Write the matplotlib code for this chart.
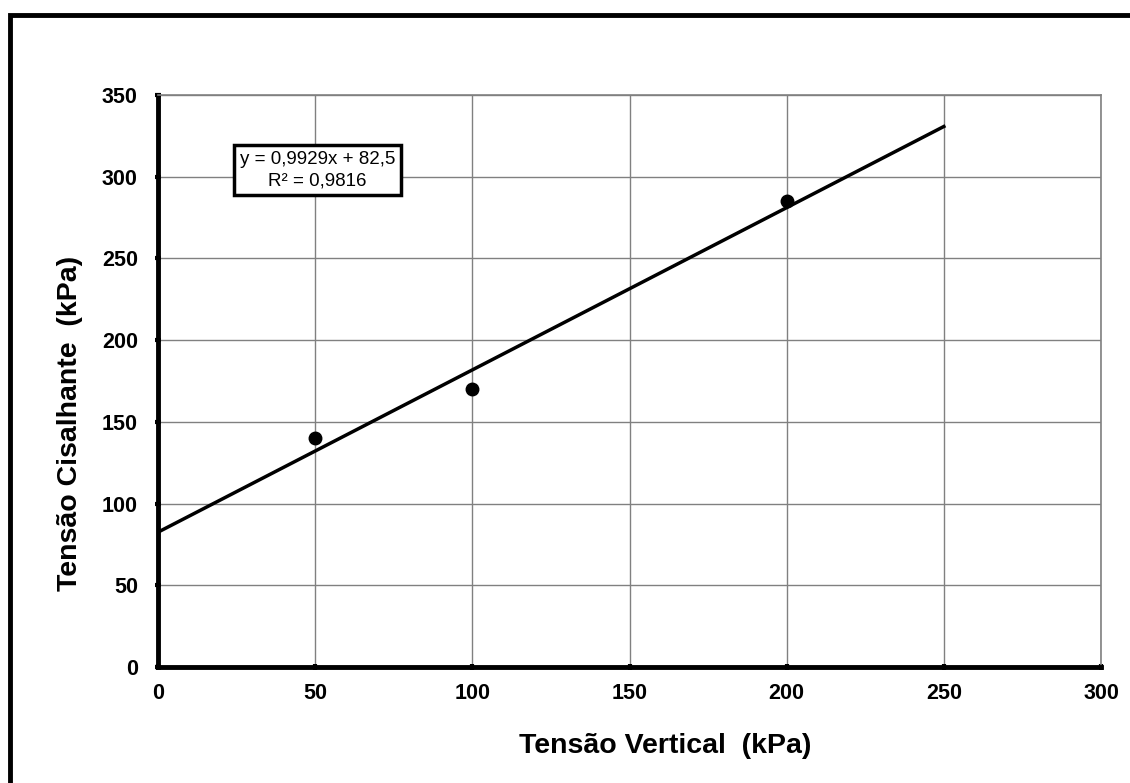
import numpy as np
import matplotlib
matplotlib.use('Agg')
from matplotlib import pyplot as plt
from matplotlib.patches import Rectangle

plt.rcParams['font.family'] = ['Liberation Sans', 'DejaVu Sans']

# ensaio de cisalhamento direto
tensao_vertical = [50, 100, 200]
tensao_cisalhante = [140, 170, 285]
slope = 0.9929
intercept = 82.5
r2 = 0.9816
trend_x = [0, 250]

x_ticks = [0, 50, 100, 150, 200, 250, 300]
y_ticks = [0, 50, 100, 150, 200, 250, 300, 350]

fig = plt.figure(figsize=(11.3, 7.83), dpi=100)
ax = fig.add_axes([158/1130, 1 - 667/783, 943/1130, 572/783])

# outer frame, cut off on right and bottom
fig.patches.append(Rectangle((10/1130, -0.1), 1.2, 1 - 15/783 + 0.1,
                             transform=fig.transFigure, fill=False,
                             edgecolor='black', linewidth=3.5, zorder=0))

tx = np.array(trend_x, dtype=float)
ax.plot(tx, slope*tx + intercept, color='black', linewidth=2.5, zorder=3)
ax.plot(tensao_vertical, tensao_cisalhante, 'o', color='black', markersize=9, zorder=4)

ax.set_xlim(0, 300)
ax.set_ylim(0, 350)
ax.set_xticks(x_ticks)
ax.set_yticks(y_ticks)
ax.grid(True, color='#808080', linewidth=1)
ax.set_axisbelow(True)

for s in ['top', 'right']:
    ax.spines[s].set_color('#808080')
    ax.spines[s].set_linewidth(1.2)
for s in ['left', 'bottom']:
    ax.spines[s].set_linewidth(3.5)

ax.tick_params(direction='inout', length=5, width=3, labelsize=15.5)
ax.tick_params(axis='x', pad=9)
ax.tick_params(axis='y', pad=12)
for lab in ax.get_xticklabels() + ax.get_yticklabels():
    lab.set_fontweight('bold')

ax.set_xlabel('Tensão Vertical  (kPa)', fontsize=20.5, fontweight='bold')
ax.set_ylabel('Tensão Cisalhante  (kPa)', fontsize=20.5, fontweight='bold')
# excel places the titles a bit off-centre
ax.xaxis.set_label_coords((665 - 158) / 943, -0.116)
ax.yaxis.set_label_coords(-0.0795, 0.425)

eq = 'y = {:.4f}x + {:.1f}\nR² = {:.4f}'.format(slope, intercept, r2).replace('.', ',')
ax.text(50.8, 304.0, eq, ha='center', va='center', fontsize=13.5, linespacing=1.35,
        bbox=dict(boxstyle='square,pad=0.3', facecolor='white', edgecolor='black', linewidth=2.5),
        zorder=5)

fig.savefig('out.png', dpi=100)
